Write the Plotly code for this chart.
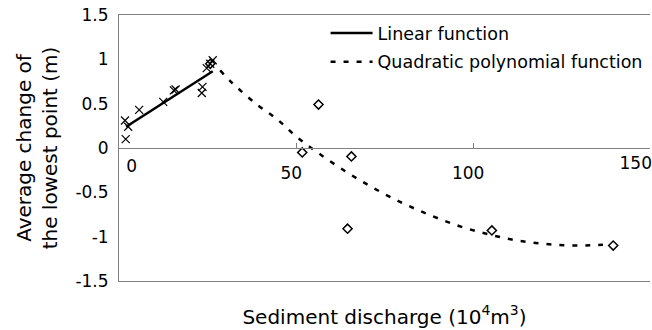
import plotly.graph_objects as go

# Measured points (linear part, crosses)
lin_x = [1.6, 2.5, 1.8, 5.6, 12.4, 15.4, 15.9, 23.5, 23.3, 24.7, 25.7, 26.4]
lin_y = [0.31, 0.24, 0.10, 0.43, 0.52, 0.65, 0.66, 0.69, 0.62, 0.90, 0.95, 0.99]
# Measured points (quadratic part, diamonds)
quad_x = [25.7, 51.7, 56.3, 65.6, 64.5, 105.3, 139.6]
quad_y = [0.95, -0.05, 0.49, -0.095, -0.91, -0.93, -1.10]
# Fitted curves
linfit_x = [1.9, 26.4]
linfit_y = [0.24, 0.865]
quadfit_x = [28.5, 32, 38.6, 44.7, 50, 56, 64, 72, 80, 88, 96, 104, 112, 120, 128, 136.7]
quadfit_y = [0.875, 0.73, 0.50, 0.32, 0.13, -0.05, -0.265, -0.455, -0.62, -0.76,
             -0.88, -0.97, -1.04, -1.08, -1.10, -1.09]

x_ticks = [0, 50, 100, 150]
x_mid_ticks = [50, 100]
x_first_tick = [0]
x_last_tick = [150]
y_ticks = [-1.5, -1, -0.5, 0, 0.5, 1, 1.5]
y_tick_labels = ['-1.5', '-1', '-0.5', '0', '0.5', '1', '1.5']

FONT = 'DejaVu Sans, sans-serif'
GRAY = '#808080'
XR = [-0.1, 150]

fig = go.Figure()
fig.add_trace(go.Scatter(x=linfit_x, y=linfit_y, mode='lines', name='Linear function',
                         line=dict(color='black', width=2.5), legendgroup='a'))
fig.add_trace(go.Scatter(x=quadfit_x, y=quadfit_y, mode='lines', name='Quadratic polynomial function',
                         line=dict(color='black', width=2.5, dash='5px,8px', shape='spline'),
                         legendgroup='b'))
fig.add_trace(go.Scatter(x=lin_x, y=lin_y, mode='markers', showlegend=False,
                         marker=dict(symbol='x-thin', size=8, line=dict(color='black', width=1.2))))
fig.add_trace(go.Scatter(x=quad_x, y=quad_y, mode='markers', showlegend=False,
                         marker=dict(symbol='diamond-open', size=7, color='black',
                                     line=dict(color='black', width=1.5))))
for ax in ['x2', 'x3', 'x4']:
    fig.add_trace(go.Scatter(x=[None], y=[None], xaxis=ax, yaxis='y', showlegend=False,
                             hoverinfo='skip'))

common_free = dict(range=XR, overlaying='x', anchor='free', position=0.5,
                   showgrid=False, zeroline=False, ticklabeloverflow='allow')

fig.update_layout(
    width=652, height=330,
    margin=dict(l=119, r=0, t=15, b=49),
    plot_bgcolor='white', paper_bgcolor='white',
    font=dict(family=FONT, size=17, color='black'),
    xaxis=dict(range=XR, showline=True, linecolor=GRAY, linewidth=1, mirror=True,
               ticks='', showticklabels=False, showgrid=False, zeroline=False,
               title=dict(text='Sediment discharge (10<sup>4</sup>m<sup>3</sup>)',
                          font=dict(size=20), standoff=28)),
    # axis through y = 0 with tick marks
    xaxis2=dict(**common_free, showline=True, linecolor=GRAY, linewidth=1,
                ticks='inside', ticklen=5, tickcolor=GRAY, tickvals=x_ticks,
                ticktext=['' if v not in x_mid_ticks else str(v) for v in x_ticks],
                ticklabelshift=-5, ticklabelstandoff=10),
    xaxis3=dict(**common_free, showline=False, ticks='', tickvals=x_first_tick,
                ticktext=[str(v) for v in x_first_tick],
                ticklabelposition='outside right', ticklabelshift=7, ticklabelstandoff=6),
    xaxis4=dict(**common_free, showline=False, ticks='', tickvals=x_last_tick,
                ticktext=[str(v) for v in x_last_tick],
                ticklabelposition='outside left', ticklabelshift=2, ticklabelstandoff=3),
    yaxis=dict(range=[-1.5, 1.5], showline=True, linecolor=GRAY, linewidth=1,
               ticks='', tickvals=y_ticks, ticktext=y_tick_labels,
               showgrid=False, zeroline=False, ticklabelstandoff=6,
               title=dict(text='Average change of<br>the lowest point (m)',
                          font=dict(size=20), standoff=12)),
    legend=dict(x=0.389, y=1.0, xanchor='left', yanchor='top', bgcolor='rgba(0,0,0,0)',
                font=dict(size=17.5), tracegroupgap=3, traceorder='grouped', itemwidth=42),
    showlegend=True,
)

fig.write_html('out.html')
